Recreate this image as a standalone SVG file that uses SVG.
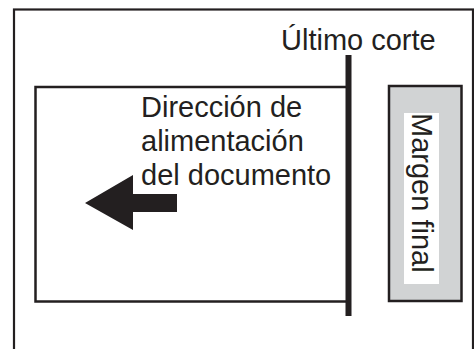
<svg xmlns="http://www.w3.org/2000/svg" width="474" height="349" viewBox="0 0 474 349">
<style>
.t{font-family:"Liberation Sans",Arial,sans-serif;font-size:29px;fill:#231f20}
.k{stroke:#231f20;fill:none}
</style>
<rect width="474" height="349" fill="#ffffff"/>
<g id="frame"><rect class="k" x="14" y="9.5" width="459" height="350" stroke-width="2.2"/></g>
<g id="document">
<rect class="k" x="35.5" y="87" width="312" height="214.5" stroke-width="2.5" fill="#ffffff"/>
<text class="t" x="141" y="117">Dirección de</text>
<text class="t" x="141" y="151">alimentación</text>
<text class="t" x="141" y="185">del documento</text>
</g>
<g id="arrow"><polygon points="85,203 133,175 133,194 177,194 177,212 133,212 133,230" fill="#231f20"/></g>
<g id="last-cut">
<line class="k" x1="348.5" y1="55" x2="348.5" y2="316" stroke-width="6"/>
<text class="t" x="281" y="50">Último corte</text>
</g>
<g id="end-margin">
<rect x="389" y="86" width="72.5" height="215" fill="#d1d3d4" stroke="#231f20" stroke-width="2.5"/>
<rect x="404" y="113" width="35" height="171" fill="#ffffff"/>
<text class="t" transform="translate(412,113) rotate(90)">Margen final</text>
</g>
</svg>
